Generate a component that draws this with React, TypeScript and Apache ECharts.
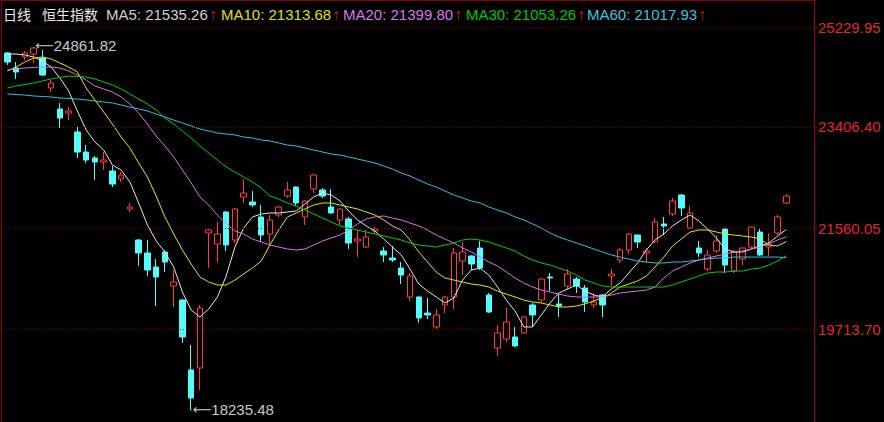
import React, { useEffect, useRef } from "react";
import * as echarts from "echarts";

// ---- data (恒生指数 日线) ----
const opens = [
  24758, 24484, 24685, 24739, 24666, 24118, 23735, 23661, 23314, 22949,
  22839, 22766, 22602, 22456, 21908, 21341, 21104, 20848, 21122, 20500,
  20245, 18966, 19003, 21469, 21268, 21853, 21341, 22127, 22036, 21762,
  21451, 21798, 22145, 22309, 21762, 22273, 22255, 21944, 21707, 21725,
  21323, 21213, 21505, 21140, 21012, 20829, 20300, 20300, 20007, 19752,
  20154, 20300, 20957, 21049, 21195, 20336, 19368, 19532, 19569, 19642,
  20154, 20245, 20665, 20172, 20500, 20628, 20464, 20154, 20336, 20683,
  20976, 21158, 21432, 21104, 21305, 21634, 21816, 22163, 21560, 21195,
  20811, 21140, 21542, 20774, 20994, 21213, 21487, 21213, 21469, 22017,
];
const closes = [
  24593, 24411, 24758, 24849, 24356, 24210, 23570, 23698, 22949, 22803,
  22766, 22803, 22364, 22529, 21944, 21104, 20793, 20665, 20939, 20574,
  19569, 18455, 20099, 21524, 21451, 21250, 21908, 22200, 21981, 21432,
  21707, 21944, 22255, 22017, 22054, 22529, 22145, 21835, 21908, 21286,
  21359, 21396, 21542, 21067, 20976, 20701, 20683, 19916, 19971, 19971,
  20300, 21104, 21122, 20903, 20829, 20026, 19642, 19843, 19405, 19934,
  19971, 20628, 20647, 20135, 20720, 20500, 20208, 20208, 20154, 20720,
  21158, 21451, 21305, 21140, 21670, 21597, 22054, 21926, 21835, 21104,
  21067, 21323, 20884, 21122, 21195, 21579, 21067, 21250, 21762, 22145,
];
const highs = [
  24776, 24593, 24794, 24861.82, 24812, 24264, 23844, 23771, 23406, 23077,
  22876, 22949, 22693, 22584, 22017, 21359, 21341, 20994, 21158, 20793,
  20260, 19423, 20154, 21542, 21670, 21870, 21926, 22456, 22236, 21981,
  21798, 21962, 22401, 22320, 22072, 22547, 22291, 22273, 21920, 21762,
  21524, 21524, 21579, 21213, 21232, 20939, 20738, 20310, 20281, 20080,
  20318, 21195, 21305, 21060, 21323, 20372, 19788, 20099, 19752, 19953,
  20190, 20647, 20738, 20372, 20811, 20665, 20519, 20372, 20354, 20811,
  21195, 21469, 21440, 21195, 21743, 21762, 22109, 22182, 21962, 21323,
  21158, 21432, 21550, 21158, 21200, 21590, 21542, 21469, 21798, 22182,
];
const lows = [
  24538, 24283, 24630, 24575, 24337, 24045, 23388, 23534, 22839, 22748,
  22437, 22620, 22309, 22401, 21853, 20866, 20683, 20135, 20756, 20117,
  19459, 18235.48, 18601, 20829, 20939, 21140, 21286, 22017, 21944, 21305,
  21250, 21762, 22109, 21962, 21616, 22200, 22109, 21820, 21616, 21177,
  21030, 21195, 21451, 20939, 20939, 20537, 20227, 19825, 19898, 19715,
  20007, 20080, 20701, 20793, 20793, 20007, 19222, 19477, 19386, 19624,
  19752, 20190, 20409, 19934, 20427, 20372, 20026, 20099, 19934, 20500,
  20921, 21085, 21195, 20921, 21286, 21432, 21780, 21780, 21542, 21030,
  20774, 21104, 20738, 20738, 20884, 21195, 21049, 21049, 21432, 21999,
];

const ma5 = [
  24739, 24739, 24721, 24685, 24611, 24502, 24301, 24063, 23698, 23351,
  23132, 22985, 22711, 22620, 22401, 22017, 21616, 21323, 21122, 20848,
  20391, 20062, 19934, 20080, 20300, 20683, 21213, 21560, 21762, 21816,
  21835, 21835, 21853, 21871, 21999, 22127, 22200, 22163, 22054, 21871,
  21707, 21597, 21505, 21359, 21213, 21067, 20811, 20537, 20409, 20300,
  20190, 20281, 20610, 20793, 20829, 20701, 20482, 20245, 20044, 19752,
  19752, 19971, 20190, 20372, 20446, 20519, 20409, 20336, 20300, 20446,
  20555, 20738, 20921, 21158, 21341, 21451, 21597, 21707, 21798, 21688,
  21542, 21378, 21177, 21122, 21122, 21177, 21232, 21286, 21414, 21535.26,
];
const ma10 = [
  24429, 24502, 24593, 24666, 24685, 24648, 24575, 24502, 24411, 24118,
  23899, 23680, 23460, 23223, 23022, 22748, 22492, 22145, 21762, 21451,
  21158, 20903, 20665, 20574, 20519, 20519, 20610, 20720, 20829, 20957,
  21250, 21524, 21762, 21835, 21908, 21981, 22017, 22017, 21981, 21944,
  21908, 21853, 21798, 21707, 21597, 21524, 21341, 21122, 20939, 20756,
  20647, 20610, 20574, 20537, 20519, 20482, 20409, 20354, 20300, 20245,
  20208, 20190, 20154, 20117, 20117, 20135, 20172, 20227, 20281, 20372,
  20482, 20537, 20592, 20683, 20848, 21030, 21232, 21359, 21487, 21524,
  21524, 21487, 21451, 21432, 21414, 21396, 21359, 21250, 21232, 21313.68,
];
const ma20 = [
  24447, 24465, 24484, 24493, 24502, 24502, 24484, 24429, 24356, 24264,
  24155, 24100, 24045, 23954, 23826, 23661, 23460, 23241, 23058, 22858,
  22620, 22383, 22127, 21981, 21798, 21634, 21505, 21451, 21359, 21305,
  21250, 21213, 21177, 21158, 21177, 21250, 21323, 21378, 21432, 21524,
  21634, 21725, 21762, 21780, 21743, 21707, 21652, 21597, 21524, 21432,
  21359, 21286, 21195, 21122, 21030, 20939, 20866, 20756, 20647, 20555,
  20482, 20427, 20391, 20354, 20318, 20300, 20300, 20300, 20300, 20336,
  20372, 20391, 20409, 20427, 20482, 20647, 20774, 20848, 20921, 20976,
  21012, 21049, 21085, 21122, 21140, 21177, 21213, 21268, 21341, 21399.8,
];
const ma30 = [
  24118, 24155, 24182, 24210, 24246, 24283, 24310, 24337, 24328, 24319,
  24283, 24228, 24173, 24100, 24009, 23917, 23826, 23716, 23570, 23460,
  23333, 23205, 23058, 22931, 22803, 22675, 22584, 22492, 22401, 22291,
  22145, 22090, 22017, 21962, 21889, 21816, 21743, 21670, 21597, 21560,
  21524, 21487, 21451, 21414, 21378, 21341, 21286, 21250, 21232, 21213,
  21250, 21286, 21341, 21359, 21341, 21305, 21250, 21195, 21140, 21049,
  20976, 20921, 20884, 20829, 20774, 20701, 20610, 20555, 20500, 20482,
  20482, 20482, 20482, 20482, 20482, 20482, 20519, 20574, 20628, 20683,
  20738, 20756, 20756, 20774, 20774, 20811, 20829, 20884, 20957, 21053.26,
];
const ma60 = [
  24009, 23999, 23990, 23972, 23963, 23954, 23936, 23926, 23917, 23899,
  23881, 23862, 23844, 23808, 23771, 23735, 23698, 23643, 23588, 23534,
  23479, 23424, 23369, 23333, 23296, 23278, 23260, 23223, 23205, 23168,
  23150, 23113, 23077, 23058, 23022, 22985, 22949, 22912, 22894, 22858,
  22821, 22784, 22748, 22693, 22638, 22565, 22510, 22437, 22364, 22309,
  22236, 22163, 22109, 22054, 22017, 21944, 21889, 21835, 21762, 21707,
  21634, 21560, 21469, 21396, 21341, 21286, 21232, 21177, 21122, 21067,
  21030, 20994, 20957, 20939, 20921, 20921, 20939, 20939, 20957, 20976,
  20994, 21012, 21012, 21030, 21030, 21030, 21030, 21030, 21030, 21017.93,
];

const yTicks = [25229.95, 23406.4, 21560.05, 19713.7];
const maNames = ["MA5", "MA10", "MA20", "MA30", "MA60"];
const titleWords = ["日线", "恒生指数"];
const slotCount = 93; // 90 candles + 3 empty slots on the right
const categories = Array.from({ length: slotCount }, (_, i) => String(i + 1));

// ---- styling ----
const UP = "#ff3c3c";
const DOWN = "#54fcfc";
const maColors = ["#e6e6e6", "#e8e800", "#e070e8", "#00d000", "#30c0e0"];
const maTextColors = ["#d0d0d0", "#e0e000", "#d878e8", "#00c800", "#40c0e0"];
const headerX = [106, 221, 343, 466, 587];
const FONT = "'Liberation Sans', Arial, sans-serif";

export default function App() {
  const ref = useRef<HTMLDivElement>(null);

  useEffect(() => {
    document.body.style.margin = "0";
    document.body.style.background = "#000";
    if (!ref.current) return;
    const chart = echarts.init(ref.current, undefined, { renderer: "svg" });

    const kdata = opens.map((o, i) => [o, closes[i], lows[i], highs[i]]);
    let hiIdx = 0;
    let loIdx = 0;
    highs.forEach((h, i) => { if (h > highs[hiIdx]) hiIdx = i; });
    lows.forEach((l, i) => { if (l < lows[loIdx]) loIdx = i; });

    const mas = [ma5, ma10, ma20, ma30, ma60];

    const headerGraphics: any[] = [
      { type: "text", x: 3, y: 14, style: { text: titleWords[0], fill: "#e8e8e8", fontSize: 14, fontFamily: "'Noto Sans CJK SC', sans-serif", verticalAlign: "middle" } },
      { type: "text", x: 42, y: 14, style: { text: titleWords[1], fill: "#e8e8e8", fontSize: 14, fontFamily: "'Noto Sans CJK SC', sans-serif", verticalAlign: "middle" } },
    ];
    mas.forEach((m, k) => {
      headerGraphics.push({
        type: "text",
        x: headerX[k],
        y: 14,
        style: {
          text: `{a|${maNames[k]}: ${m[m.length - 1].toFixed(2)}}{u|↑}`,
          verticalAlign: "middle",
          rich: {
            a: { fill: maTextColors[k], fontSize: 15, fontFamily: FONT },
            u: { fill: "#d81818", fontSize: 16, fontFamily: FONT, padding: [1, 0, 0, 1] },
          },
        },
      });
    });

    const borderColor = "#8c0000";

    chart.setOption({
      animation: false,
      backgroundColor: "#000",
      grid: { left: 3, right: 67, top: 0, bottom: 0, show: false },
      xAxis: { type: "category", data: categories, show: false, boundaryGap: true },
      yAxis: { type: "value", min: 18016, max: 25726, show: false, splitLine: { show: false } },
      graphic: [
        { type: "line", shape: { x1: 1, y1: 0.5, x2: 814, y2: 0.5 }, style: { stroke: borderColor, lineWidth: 1 }, silent: true },
        { type: "line", shape: { x1: 1.5, y1: 0, x2: 1.5, y2: 422 }, style: { stroke: borderColor, lineWidth: 1 }, silent: true },
        { type: "line", shape: { x1: 814.5, y1: 0, x2: 814.5, y2: 422 }, style: { stroke: "#a00000", lineWidth: 1 }, silent: true },
        ...headerGraphics,
      ],
      series: [
        {
          type: "candlestick",
          data: kdata,
          barWidth: 6,
          silent: true,
          itemStyle: {
            color: "#000000",
            color0: DOWN,
            borderColor: UP,
            borderColor0: DOWN,
            borderWidth: 1,
          },
          markLine: {
            silent: true,
            symbol: ["none", "none"],
            lineStyle: { color: "#8a0000", type: [1, 2], width: 1 },
            label: {
              position: "end",
              distance: 1,
              color: "#e02828",
              fontSize: 15,
              fontFamily: FONT,
              formatter: (p: any) => Number(p.value).toFixed(2),
            },
            emphasis: { disabled: true },
            data: yTicks.map((v) => ({ yAxis: v })),
          },
          markPoint: {
            symbol: "circle",
            symbolSize: 1,
            silent: true,
            itemStyle: { color: "#c0c0c0" },
            label: {
              show: true,
              position: "right",
              distance: 1,
              color: "#c8c8c8",
              fontSize: 15,
              fontFamily: FONT,
              formatter: (p: any) => "{r|⟵}" + Number(p.value).toFixed(2),
              rich: {
                r: { color: "#c8c8c8", fontSize: 13, fontFamily: "'DejaVu Sans', sans-serif" },
              },
            },
            data: [
              { coord: [hiIdx, highs[hiIdx]], value: highs[hiIdx], label: { offset: [0, -2] } },
              { coord: [loIdx, lows[loIdx]], value: lows[loIdx] },
            ],
          },
          z: 2,
        },
        ...mas.map((m, k) => ({
          type: "line",
          name: maNames[k],
          data: m,
          symbol: "none",
          showSymbol: false,
          silent: true,
          lineStyle: { width: 1, color: maColors[k] },
          itemStyle: { color: maColors[k] },
          z: 3,
        })),
      ],
    });

    return () => chart.dispose();
  }, []);

  return <div ref={ref} style={{ width: 884, height: 422, background: "#000" }} />;
}
